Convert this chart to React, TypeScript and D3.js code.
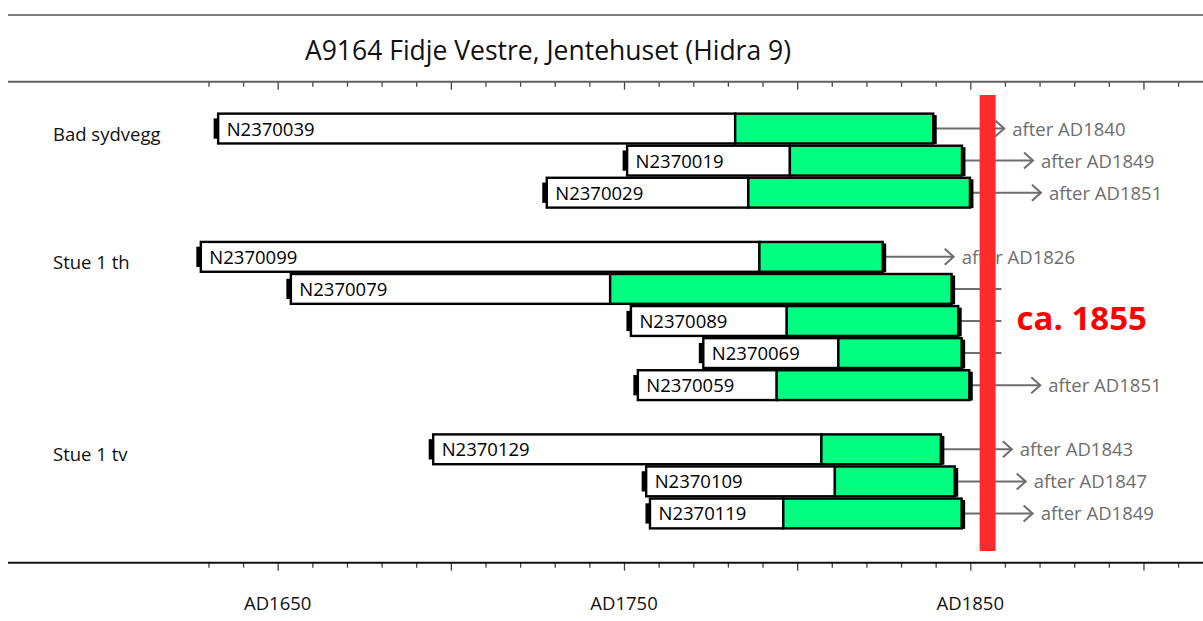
import React, { useEffect, useRef } from "react";
import * as d3 from "d3";

// chart data
const title = "A9164 Fidje Vestre, Jentehuset (Hidra 9)";
const groups = ["Bad sydvegg", "Stue 1 th", "Stue 1 tv"];
const sampleIds = [
  "N2370039", "N2370019", "N2370029",
  "N2370099", "N2370079", "N2370089", "N2370069", "N2370059",
  "N2370129", "N2370109", "N2370119",
];
const sampleGroup = [0, 0, 0, 1, 1, 1, 1, 1, 2, 2, 2];
const startYears = [1632.8, 1750.9, 1727.7, 1627.8, 1653.8, 1752, 1772.9, 1754, 1694.9, 1756.4, 1757.5];
const sapwoodYears = [1782.1, 1797.9, 1785.9, 1789.1, 1746, 1797, 1811.9, 1794.1, 1807, 1810.9, 1796];
const endYears = [1839.3, 1847.6, 1849.9, 1824.7, 1844.6, 1846.5, 1847.5, 1849.7, 1841.5, 1845.5, 1847.5];
const afterYears: (number | null)[] = [1840, 1849, 1851, 1826, null, null, null, 1851, 1843, 1847, 1849];
const fellingYear = 1855;
const fellingLabel = "ca. 1855";
const tickYears = d3.range(1630, 1911, 10);
const labelYears = [1650, 1750, 1850];

export default function App() {
  const svgRef = useRef<SVGSVGElement | null>(null);

  useEffect(() => {
    if (!svgRef.current) return;
    const svg = d3.select(svgRef.current);
    svg.selectAll("*").remove();

    const W = 1203;
    const H = 621;
    const font = "'Open Sans', sans-serif";

    const x = d3.scaleLinear().domain([1650, 1850]).range([277.7, 970.3]);

    // rows: groups separated by one empty row
    const rowIndex: number[] = [];
    let r = 0;
    sampleGroup.forEach((g, i) => {
      if (i > 0 && g !== sampleGroup[i - 1]) r++;
      rowIndex.push(r);
      r++;
    });
    const y = d3
      .scaleBand<number>()
      .domain(d3.range(r))
      .range([112.5, 529.5])
      .paddingInner(0.07)
      .paddingOuter(0.035);
    const bh = y.bandwidth();
    const cy = (i: number) => (y(rowIndex[i]) as number) + bh / 2;

    // frame lines
    svg.append("line").attr("x1", 8).attr("x2", W).attr("y1", 15).attr("y2", 15)
      .attr("stroke", "#7f7f7f").attr("stroke-width", 2);

    svg.append("text").attr("x", 548).attr("y", 60).attr("text-anchor", "middle")
      .attr("font-family", font).attr("font-size", 26.5).attr("fill", "#111").text(title);

    const drawAxis = (yPos: number, color: string) => {
      const g = svg.append("g").attr("transform", `translate(0,${yPos})`);
      g.call(
        d3.axisBottom(x).tickValues(tickYears).tickSize(5).tickFormat(() => "")
      );
      g.select(".domain").remove();
      g.selectAll(".tick line")
        .attr("stroke", "#444")
        .attr("stroke-width", 1.3)
        .attr("y2", (d: any) => (d % 50 === 0 ? 8 : 5));
      g.append("line").attr("x1", 8).attr("x2", W).attr("y1", 0).attr("y2", 0)
        .attr("stroke", color).attr("stroke-width", 2);
    };
    drawAxis(81.7, "#606060");
    drawAxis(562.7, "#111");

    svg.append("g").selectAll("text").data(labelYears).join("text")
      .attr("x", (d) => x(d)).attr("y", 610).attr("text-anchor", "middle")
      .attr("font-family", font).attr("font-size", 18.5).attr("fill", "#111")
      .text((d) => `AD${d}`);

    // group labels
    groups.forEach((gName, g) => {
      const first = sampleGroup.indexOf(g);
      svg.append("text").attr("x", 53).attr("y", cy(first) + 12)
        .attr("font-family", font).attr("font-size", 18.5).attr("fill", "#111")
        .text(gName);
    });

    const gray = "#6d6d6d";
    // after-lines and arrows
    sampleIds.forEach((_, i) => {
      const yc = cy(i);
      const x0 = x(endYears[i]);
      const after = afterYears[i];
      if (after !== null) {
        const tip = x(endYears[i] + 20.5);
        svg.append("line").attr("x1", x0).attr("x2", tip).attr("y1", yc).attr("y2", yc)
          .attr("stroke", gray).attr("stroke-width", 2);
        svg.append("path")
          .attr("d", `M${tip - 9},${yc - 8}L${tip},${yc}L${tip - 9},${yc + 8}`)
          .attr("fill", "none").attr("stroke", gray).attr("stroke-width", 2);
        svg.append("text").attr("x", tip + 8).attr("y", yc + 7)
          .attr("font-family", font).attr("font-size", 18.5).attr("fill", gray)
          .text(`after AD${after}`);
      } else {
        svg.append("line").attr("x1", x0).attr("x2", x(1859)).attr("y1", yc).attr("y2", yc)
          .attr("stroke", gray).attr("stroke-width", 2);
      }
    });

    // bars
    sampleIds.forEach((id, i) => {
      const yt = y(rowIndex[i]) as number;
      const xs = x(startYears[i]);
      const xm = x(sapwoodYears[i]);
      const xe = x(endYears[i]);
      const g = svg.append("g");
      g.append("rect").attr("x", xs).attr("y", yt).attr("width", xm - xs).attr("height", bh)
        .attr("fill", "#fff").attr("stroke", "#000").attr("stroke-width", 2.4);
      g.append("rect").attr("x", xm).attr("y", yt).attr("width", xe - xm).attr("height", bh)
        .attr("fill", "#00ff80").attr("stroke", "#000").attr("stroke-width", 2.4);
      g.append("rect").attr("x", xs - 4.5).attr("y", yt + bh * 0.16).attr("width", 4)
        .attr("height", bh * 0.68).attr("fill", "#000");
      g.append("rect").attr("x", xe).attr("y", yt + 1.5).attr("width", 3.5)
        .attr("height", bh - 1).attr("fill", "#000");
      g.append("text").attr("x", xs + 8.5).attr("y", yt + bh / 2 + 7)
        .attr("font-family", font).attr("font-size", 18.5).attr("fill", "#000")
        .text(id);
    });

    // felling date
    const fx = x(fellingYear);
    svg.append("rect").attr("x", fx - 8).attr("y", 95).attr("width", 16).attr("height", 456)
      .attr("fill", "#ff2b2b");
    svg.append("text").attr("x", fx + 29).attr("y", 330)
      .attr("font-family", font).attr("font-size", 33).attr("font-weight", "bold")
      .attr("fill", "#ff0000").text(fellingLabel);

    svg.attr("width", W).attr("height", H);
  }, []);

  return (
    <svg
      ref={svgRef}
      width={1203}
      height={621}
      style={{ position: "fixed", left: 0, top: 0, background: "#fff" }}
    />
  );
}
